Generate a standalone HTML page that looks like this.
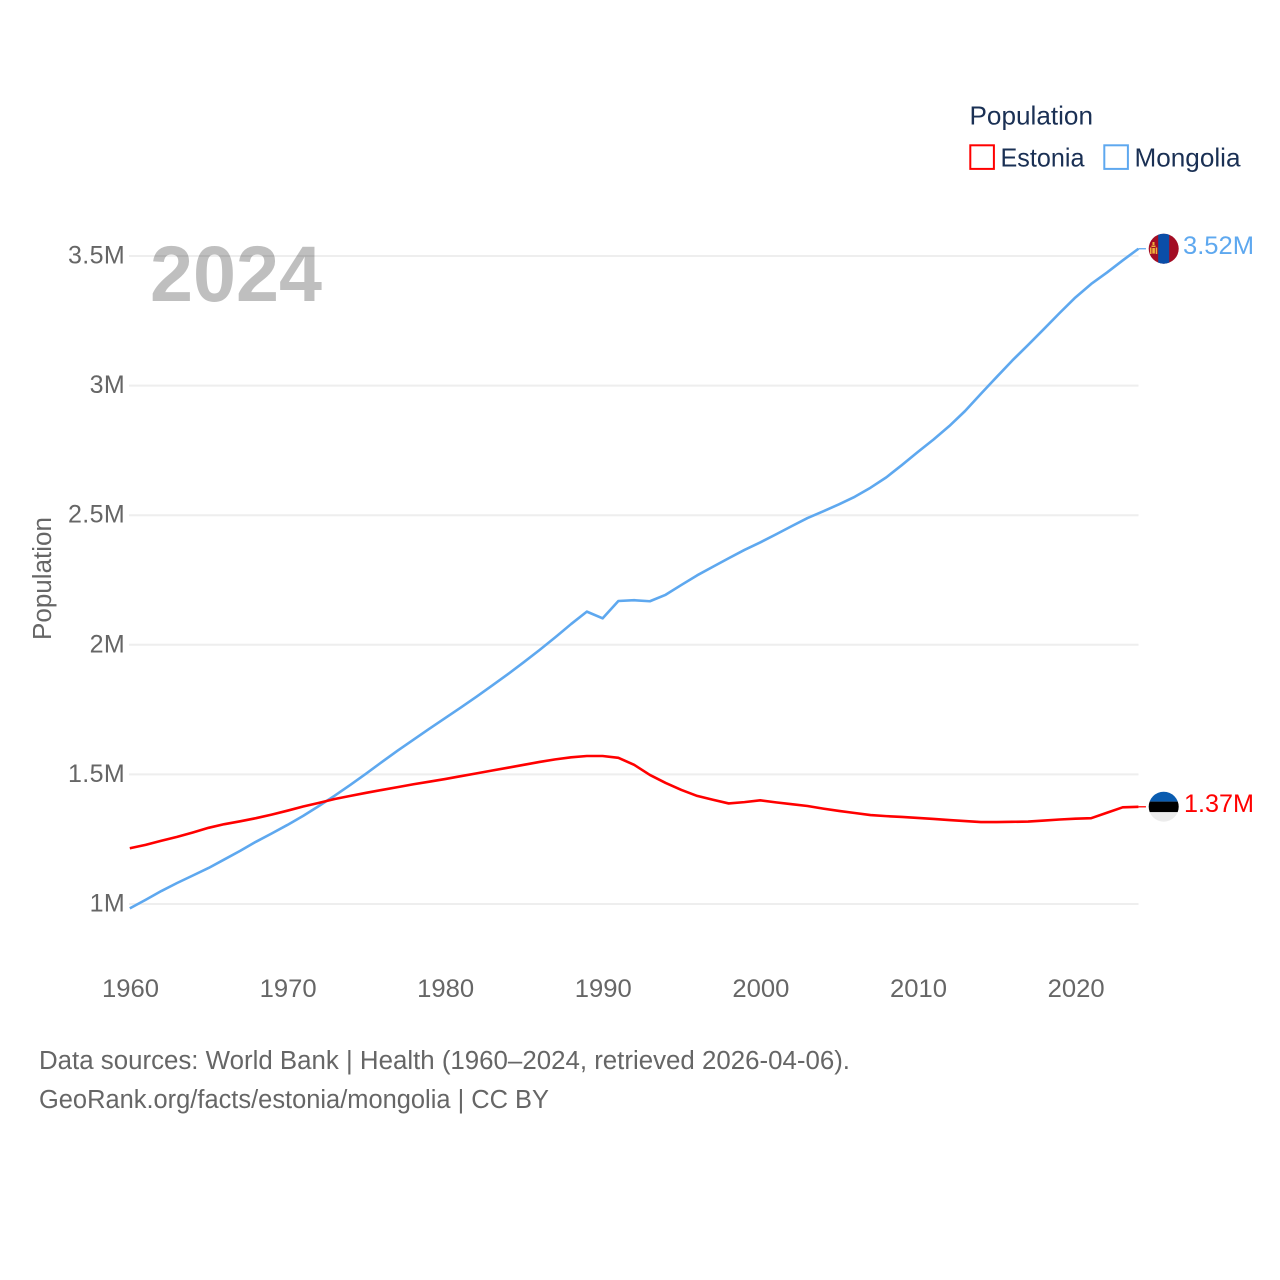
<!DOCTYPE html>
<html lang="en">
<head>
<meta charset="utf-8">
<title>Population: Estonia and Mongolia</title>
<style>
  html, body { margin: 0; padding: 0; background: #fff; }
  svg { display: block; font-family: "Liberation Sans", sans-serif; }
</style>
</head>
<body>
<svg id="chart" xmlns="http://www.w3.org/2000/svg" width="1280" height="1280" viewBox="0 0 1280 1280">
  <defs>
    <clipPath id="clip-mn"><circle cx="1163.7" cy="248.7" r="15"></circle></clipPath>
    <clipPath id="clip-ee"><circle cx="1163.7" cy="806.7" r="15"></circle></clipPath>
  </defs>
  <rect width="1280" height="1280" fill="#fff"></rect>

  <g id="grid"></g>
  <g id="y-ticks"></g>
  <g id="x-ticks"></g>

  <text transform="translate(51,640) rotate(-90)" font-size="25.5" fill="#666" textLength="123" lengthAdjust="spacingAndGlyphs">Population</text>
  <text x="150" y="301" font-size="79" font-weight="bold" fill="#000" fill-opacity="0.25" textLength="172" lengthAdjust="spacingAndGlyphs">2024</text>

  <g id="series"></g>

  <g clip-path="url(#clip-mn)">
    <rect x="1148" y="233" width="32" height="32" fill="#a30d24"></rect>
    <rect x="1158.2" y="233" width="11" height="32" fill="#0a4ea8"></rect>
    <rect x="1152.5" y="242" width="2" height="3" fill="#eeb23c"></rect>
    <rect x="1151.5" y="245.5" width="4" height="1.5" fill="#eeb23c"></rect>
    <rect x="1150" y="247.5" width="1.5" height="6.5" fill="#eeb23c"></rect>
    <rect x="1155.7" y="247.5" width="1.5" height="6.5" fill="#eeb23c"></rect>
    <rect x="1152.3" y="248" width="2.6" height="5.6" fill="#eeb23c"></rect>
  </g>
  <g clip-path="url(#clip-ee)">
    <rect x="1148" y="791" width="32" height="10.6" fill="#0a5cb0"></rect>
    <rect x="1148" y="801.6" width="32" height="10.6" fill="#000"></rect>
    <rect x="1148" y="812.2" width="32" height="11" fill="#ececec"></rect>
  </g>

  <text x="1183" y="254" font-size="25" fill="#5ea8ef" textLength="71" lengthAdjust="spacingAndGlyphs">3.52M</text>
  <text x="1184" y="812" font-size="25" fill="#ff0000" textLength="70" lengthAdjust="spacingAndGlyphs">1.37M</text>

  <g>
    <text x="969.5" y="124.5" font-size="26" fill="#1a3054" textLength="123.5" lengthAdjust="spacingAndGlyphs">Population</text>
    <rect x="970.3" y="145.3" width="23.6" height="23.6" fill="#fff" stroke="#ff0000" stroke-width="2"></rect>
    <text x="1000.5" y="166.5" font-size="26" fill="#1a3054" textLength="84" lengthAdjust="spacingAndGlyphs">Estonia</text>
    <rect x="1104.3" y="145.3" width="23.6" height="23.6" fill="#fff" stroke="#5ea8ef" stroke-width="2"></rect>
    <text x="1134.5" y="166.5" font-size="26" fill="#1a3054" textLength="106" lengthAdjust="spacingAndGlyphs">Mongolia</text>
  </g>

  <text x="39" y="1069" font-size="25.5" fill="#666" textLength="811" lengthAdjust="spacingAndGlyphs">Data sources: World Bank | Health (1960–2024, retrieved 2026-04-06).</text>
  <text x="39" y="1108" font-size="25.5" fill="#666" textLength="510" lengthAdjust="spacingAndGlyphs">GeoRank.org/facts/estonia/mongolia | CC BY</text>
</svg>
<script>
const startYear = 1960;
const yTickValues = [1, 1.5, 2, 2.5, 3, 3.5];
const yTickLabels = ["1M", "1.5M", "2M", "2.5M", "3M", "3.5M"];
const xTickYears = [1960, 1970, 1980, 1990, 2000, 2010, 2020];
const estoniaValues = [
  1.215, 1.228, 1.244, 1.259, 1.276, 1.294, 1.308, 1.319, 1.331, 1.345,
  1.360, 1.376, 1.390, 1.405, 1.417, 1.429, 1.440, 1.451, 1.462, 1.472,
  1.482, 1.493, 1.504, 1.515, 1.526, 1.537, 1.548, 1.558, 1.566, 1.571,
  1.571, 1.564, 1.537, 1.498, 1.467, 1.440, 1.417, 1.402, 1.388, 1.393,
  1.400, 1.392, 1.385, 1.378, 1.368, 1.359, 1.351, 1.343, 1.339, 1.336,
  1.332, 1.328, 1.324, 1.320, 1.316, 1.316, 1.317, 1.318, 1.322, 1.326,
  1.329, 1.331, 1.352, 1.373, 1.375
];
const mongoliaValues = [
  0.983, 1.016, 1.050, 1.081, 1.110, 1.139, 1.172, 1.205, 1.240, 1.272,
  1.305, 1.340, 1.378, 1.418, 1.460, 1.503, 1.548, 1.592, 1.634, 1.676,
  1.717, 1.758, 1.800, 1.843, 1.887, 1.933, 1.980, 2.029, 2.080, 2.128,
  2.102, 2.169, 2.172, 2.168, 2.193, 2.231, 2.268, 2.301, 2.334, 2.366,
  2.395, 2.426, 2.458, 2.489, 2.515, 2.542, 2.571, 2.606, 2.646, 2.694,
  2.744, 2.792, 2.844, 2.902, 2.968, 3.033, 3.097, 3.157, 3.218, 3.280,
  3.340, 3.392, 3.436, 3.483, 3.528
];

const SVG_NS = "http://www.w3.org/2000/svg";
const xScale = year => 129.8 + (year - startYear) * 15.76;
const yScale = value => 904 - (value - 1) * 259.2;

function make(tag, attrs, parent, text) {
  const el = document.createElementNS(SVG_NS, tag);
  Object.keys(attrs).forEach(k => el.setAttribute(k, attrs[k]));
  if (text !== undefined) el.textContent = text;
  parent.appendChild(el);
  return el;
}

const gridGroup = document.getElementById("grid");
const yGroup = document.getElementById("y-ticks");
yTickValues.forEach((v, i) => {
  const line = make("line", { x1: 129, x2: 1138.5, y1: yScale(v), y2: yScale(v), stroke: "#eeeeee", "stroke-width": 2 }, gridGroup);
  
  
  const label = make("text", { x: 125, y: yScale(v) + 7.5, "font-size": 25, fill: "#666", "text-anchor": "end", "letter-spacing": 0.35 }, yGroup, yTickLabels[i]);
  
  
});

const xGroup = document.getElementById("x-ticks");
xTickYears.forEach(year => {
  const label = make("text", { x: xScale(year) + 0.7, y: 997, "font-size": 25, fill: "#666", "text-anchor": "middle", textLength: 57, lengthAdjust: "spacingAndGlyphs" }, xGroup, String(year));
  
  
});

const seriesGroup = document.getElementById("series");
function drawSeries(values, color, lineName, leaderName) {
  const pts = values.map((v, i) => xScale(startYear + i).toFixed(2) + "," + yScale(v).toFixed(2)).join(" ");
  const line = make("polyline", { points: pts, fill: "none", stroke: color, "stroke-width": 2.6, "stroke-linejoin": "round" }, seriesGroup);
  
  
  const lastY = yScale(values[values.length - 1]);
  const lastX = xScale(startYear + values.length - 1);
  const leader = make("line", { x1: lastX, x2: lastX + 7.5, y1: lastY, y2: lastY, stroke: color, "stroke-width": 1.3 }, seriesGroup);
  
  
}
drawSeries(mongoliaValues, "#5ea8ef", "mongolia-line", "mongolia-leader-line");
drawSeries(estoniaValues, "#ff0000", "estonia-line", "estonia-leader-line");
</script>
</body>
</html>
